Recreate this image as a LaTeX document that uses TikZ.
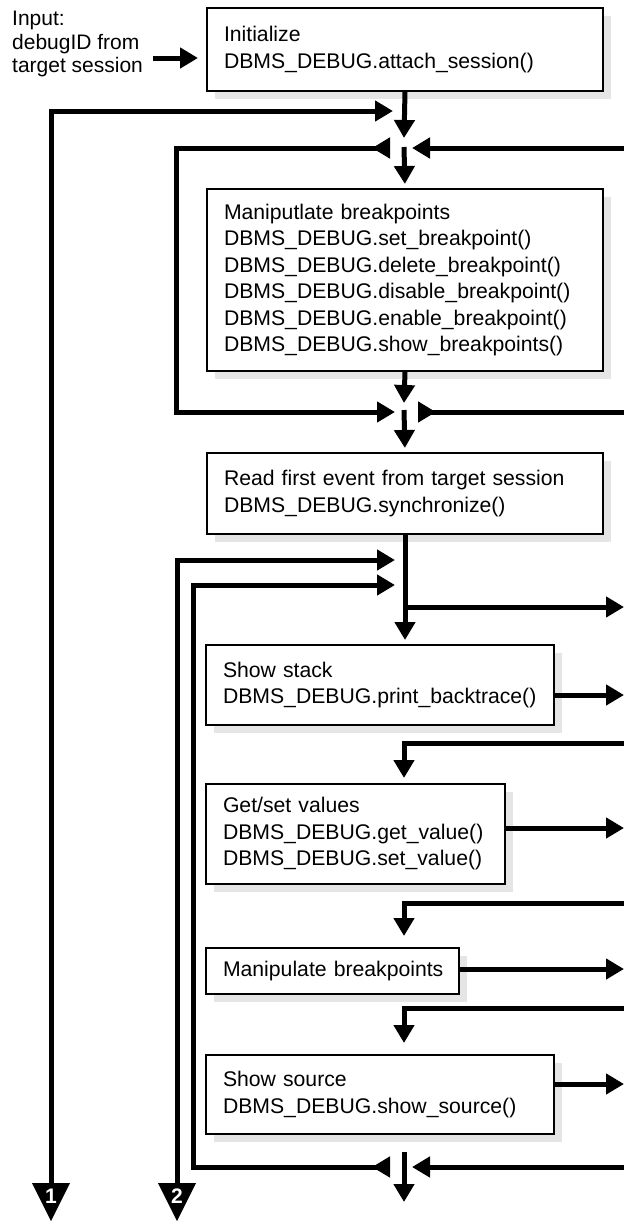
\documentclass[tikz,border=0pt]{standalone}
\usepackage{fontspec}
\setmainfont{Liberation Sans}
\usetikzlibrary{arrows.meta,shadows}
\begin{document}
\begin{tikzpicture}[x=1pt,y=-1pt,
  box/.style={draw, line width=2pt, fill=white, rectangle, inner xsep=17pt, inner ysep=0pt,
    align=left, anchor=north west, font=\fontsize{21.2}{26.5}\selectfont,
    drop shadow={shadow xshift=8pt, shadow yshift=-8pt, fill=black!10, opacity=1}},
  txt/.style={inner sep=0pt, align=left, font=\fontsize{21}{23.5}\selectfont},
  conn/.style={inner sep=0pt, text=white, font=\fontsize{21}{21}\selectfont\bfseries},
  flow/.style={line width=5pt, -{Triangle[length=18pt,width=20pt]}},
  both/.style={line width=5pt, {Triangle[reversed,length=18pt,width=20pt]}-{Triangle[length=18pt,width=20pt]}},
  rstart/.style={line width=5pt, {Triangle[reversed,length=18pt,width=20pt]}-},
]
\useasboundingbox (0,0) rectangle (624,1221);

% boxes
\node[box, text width=362pt, minimum height=83pt] (init) at (206,7)
  {Initialize\\DBMS\_DEBUG.attach\_session()};
\node[box, text width=362pt, minimum height=182pt] (manip) at (206,188)
  {Maniputlate breakpoints\\DBMS\_DEBUG.set\_breakpoint()\\DBMS\_DEBUG.delete\_breakpoint()\\DBMS\_DEBUG.disable\_breakpoint()\\DBMS\_DEBUG.enable\_breakpoint()\\DBMS\_DEBUG.show\_breakpoints()};
\node[box, text width=362pt, minimum height=81pt] (read) at (206,452)
  {Read first event from target session\\DBMS\_DEBUG.synchronize()};
\node[box, text width=314pt, minimum height=80pt] (stack) at (205,644)
  {Show stack\\\mbox{DBMS\_DEBUG.print\_backtrace()}};
\node[box, text width=265pt, minimum height=100pt] (getset) at (205,783)
  {Get/set values\\DBMS\_DEBUG.get\_value()\\DBMS\_DEBUG.set\_value()};
\node[box, text width=219pt, minimum height=46pt] (manip2) at (205,947)
  {\mbox{Manipulate breakpoints}};
\node[box, text width=314pt, minimum height=79pt] (source) at (205,1054)
  {Show source\\DBMS\_DEBUG.show\_source()};

% input
\node[txt, anchor=north west] (input) at (12,11) {Input:\\debugID from\\target session};
\coordinate (inS) at (153,58);
\draw[flow, shorten >=8pt] (inS) -- (inS -| init.west);

% off-page connectors
\fill (32,1183) -- (70,1183) -- (51,1221) -- cycle;
\node[conn] (n1) at (51,1196) {1};
\fill (158,1183) -- (196,1183) -- (177,1221) -- cycle;
\node[conn] (n2) at (177,1196) {2};
\coordinate (t1) at (51,1184);
\coordinate (t2) at (177,1184);

% top junction
\coordinate (c1) at (51,111);
\coordinate (jA) at (393,111);
\draw[flow] (t1) -- (c1) -- (jA);
\coordinate (jAd) at (404,138);
\draw[flow] (init.south) -- (jAd);

\coordinate (bL) at (390,148);
\coordinate (bLc) at (176,148);
\coordinate (cLc) at (176,412);
\coordinate (cL) at (395,412);
\draw[both] (bL) -- (bLc) -- (cLc) -- (cL);
\coordinate (bRe) at (624,148);
\coordinate (bR) at (412,148);
\draw[flow] (bRe) -- (bR);
\coordinate (bS) at (404,147);
\draw[flow, shorten >=4pt] (bS) -- (manip.north);

% after manipulate
\coordinate (cD) at (404,403);
\draw[flow] (manip.south) -- (cD);
\coordinate (cR) at (418,412);
\coordinate (cRe) at (624,412);
\draw[rstart] (cR) -- (cRe);
\coordinate (cS) at (404,410);
\draw[flow, shorten >=4pt] (cS) -- (read.north);

% main loop
\draw[flow, shorten >=4pt] (read.south) -- (read.south |- stack.north);
\coordinate (br) at (404,607);
\coordinate (brE) at (624,607);
\draw[flow] (br) -- (brE);

\coordinate (c2) at (177,560);
\coordinate (e2) at (395,560);
\draw[flow] (t2) -- (c2) -- (e2);
\coordinate (dL) at (390,1167);
\coordinate (d3) at (193,1167);
\coordinate (c3) at (193,585);
\coordinate (e3) at (395,585);
\draw[both] (dL) -- (d3) -- (c3) -- (e3);

\coordinate (sE) at (624,695);
\draw[flow] (stack.east |- sE) -- (sE);

\coordinate (gR) at (624,743);
\coordinate (gC) at (404,743);
\draw[flow, shorten >=5pt] (gR) -- (gC) -- (gC |- getset.north);
\coordinate (gE) at (624,828);
\draw[flow] (getset.east |- gE) -- (gE);

\coordinate (mR) at (624,903);
\coordinate (mC) at (404,903);
\draw[flow, shorten >=11pt] (mR) -- (mC) -- (mC |- manip2.north);
\coordinate (mE) at (624,969);
\draw[flow] (manip2.east |- mE) -- (mE);

\coordinate (sR) at (624,1008);
\coordinate (sC) at (404,1008);
\draw[flow, shorten >=11pt] (sR) -- (sC) -- (sC |- source.north);
\coordinate (soE) at (624,1084);
\draw[flow] (source.east |- soE) -- (soE);

% bottom junction
\coordinate (dRe) at (624,1167);
\coordinate (dR) at (412,1167);
\draw[flow] (dRe) -- (dR);
\coordinate (dS) at (404,1152);
\coordinate (dD) at (404,1202);
\draw[flow] (dS) -- (dD);
\end{tikzpicture}
\end{document}
